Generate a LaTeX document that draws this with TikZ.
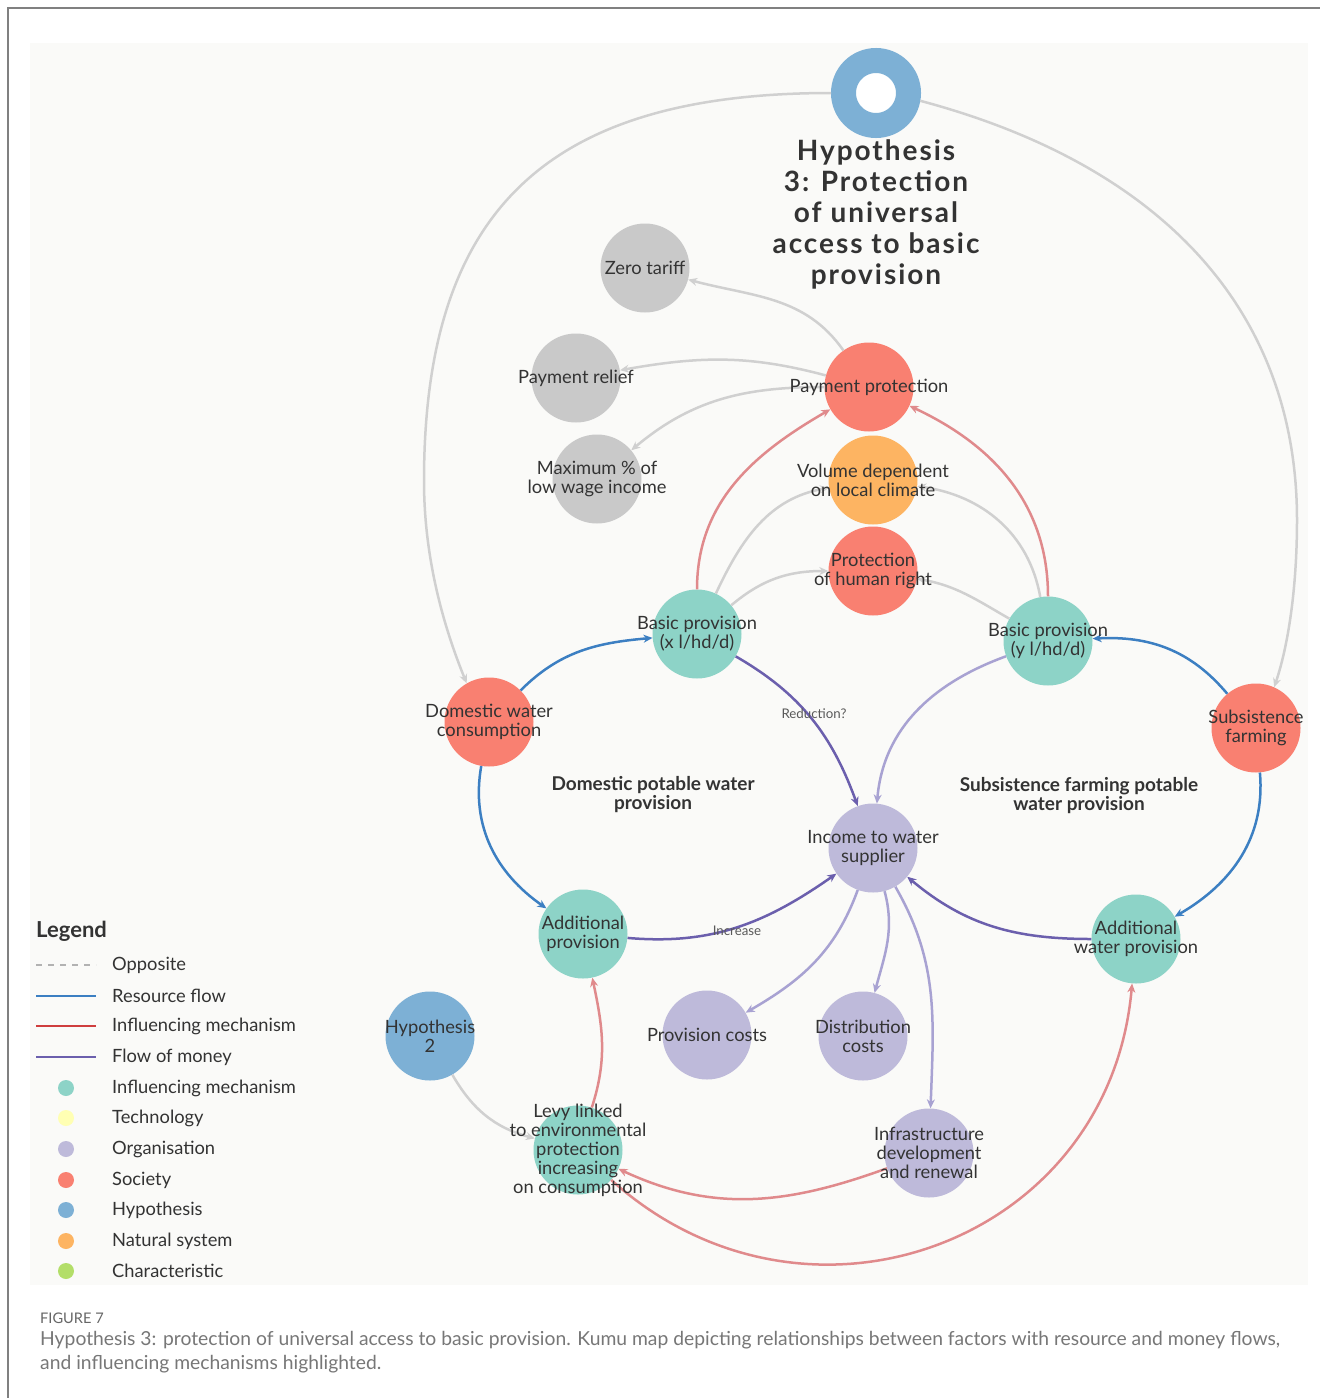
\documentclass[tikz,border=0pt]{standalone}
\usepackage{fontspec}
\setmainfont{Lato}
\newfontfamily\ttlfont{Lato}[LetterSpace=7]
\usetikzlibrary{arrows.meta}
\definecolor{cteal}{HTML}{8DD3C7}
\definecolor{cyel}{HTML}{FFFFB3}
\definecolor{clav}{HTML}{BEBADA}
\definecolor{cred}{HTML}{F98071}
\definecolor{chyp}{HTML}{7DB0D5}
\definecolor{corg}{HTML}{FDB462}
\definecolor{cgrn}{HTML}{B3DE69}
\definecolor{cgry}{HTML}{C9C9C9}
\definecolor{egry}{HTML}{D0D0D0}
\definecolor{ered}{HTML}{E08A8C}
\definecolor{eblu}{HTML}{3C7FC2}
\definecolor{edpu}{HTML}{6B5FAD}
\definecolor{elpu}{HTML}{A8A2D2}
\definecolor{lred}{HTML}{CF3E3E}
\definecolor{txt}{HTML}{333333}
\definecolor{panel}{HTML}{FAFAF8}
\definecolor{capc}{HTML}{777777}
\begin{document}
\begin{tikzpicture}[x=1pt,y=1pt,
  nd/.style={circle, minimum size=89pt, inner sep=0pt, draw=none},
  tl/.style={align=center, inner sep=0pt, text=txt, font=\fontsize{18.3}{19}\selectfont},
  rl/.style={align=center, inner sep=0pt, text=txt, font=\fontsize{19}{19}\selectfont\bfseries},
  elbl/.style={inner sep=0pt, text=black!65, font=\fontsize{13.3}{14}\selectfont},
  ed/.style={line width=2.5pt, -{Stealth[length=9pt,width=8pt]}},
  ge/.style={ed, draw=egry},
  re/.style={ed, draw=ered},
  be/.style={ed, draw=eblu},
  de/.style={ed, draw=edpu},
  le/.style={ed, draw=elpu},
  legt/.style={anchor=west, inner sep=0pt, text=txt, font=\fontsize{18.3}{19}\selectfont},
  legdot/.style={circle, minimum size=16pt, inner sep=0pt, draw=none},
  legln/.style={line width=2pt}
]
\useasboundingbox (0,0) rectangle (1320,-1398);
\fill[white] (0,0) rectangle (1320,-1398);
\fill[panel] (30,-43) rectangle (1308,-1285);
\draw[line width=1.5pt, black!50] (1320,-8) -- (8,-8) -- (8,-1398);

% nodes
\node[circle, minimum size=65pt, inner sep=0pt, line width=25pt, draw=chyp, fill=white] (h3) at (876,-93) {};
\node[nd, fill=cgry] (zt) at (645,-268) {};
\node[nd, fill=cgry] (pr) at (576,-378) {};
\node[nd, fill=cgry] (mx) at (597,-479) {};
\node[nd, fill=cred] (pp) at (869,-387) {};
\node[nd, fill=corg] (vd) at (873,-480) {};
\node[nd, fill=cred] (phr) at (873,-571) {};
\node[nd, fill=cteal] (bx) at (697,-634) {};
\node[nd, fill=cteal] (by) at (1048,-641) {};
\node[nd, fill=cred] (dwc) at (489,-722) {};
\node[nd, fill=cred] (sf) at (1256,-728) {};
\node[nd, fill=clav] (inc) at (873,-848) {};
\node[nd, fill=cteal] (ap) at (583,-934) {};
\node[nd, fill=cteal] (awp) at (1136,-939) {};
\node[nd, fill=chyp] (h2) at (430,-1036) {};
\node[nd, fill=clav] (pc) at (707,-1035) {};
\node[nd, fill=clav] (dc) at (863,-1036) {};
\node[nd, fill=cteal] (levy) at (578,-1150) {};
\node[nd, fill=clav] (inf) at (929,-1153) {};

% waypoints of the two long arcs
\coordinate (lw) at (424,-481);
\coordinate (rw) at (1297,-520);

% gray edges
\draw[ge] (h3.west) .. controls (548,-93) and (424,-209) .. (lw)
  .. controls (424,-561) and (445,-630) .. (dwc.120);
\draw[ge] (h3.-10) .. controls (1165,-166) and (1297,-313) .. (rw)
  .. controls (1297,-580) and (1290,-640) .. (sf.66);
\draw[ge] (pp) to[out=125, in=-15] (zt);
\draw[ge] (pp) to[out=165, in=10] (pr);
\draw[ge] (pp) to[out=180, in=40] (mx);
\draw[ge] (bx) to[out=65, in=190] (vd);
\draw[ge] (bx) to[out=40, in=180] (phr);
\draw[ge] (by) to[out=100, in=-8] (vd);
\draw[ge] (by) to[out=150, in=-10] (phr);
\draw[ge] (h2) to[out=-60, in=165] (levy);
% red edges
\draw[re] (bx) to[out=90, in=210] (pp);
\draw[re] (by) to[out=90, in=-25] (pp);
\draw[re] (levy) to[out=72, in=-78] (ap);
\draw[re] (inf) to[out=200, in=-25] (levy);
\draw[re] (levy) to[out=-42, in=-95, looseness=1.2] (awp);
% blue edges
\draw[be] (dwc) to[out=45, in=185] (bx);
\draw[be] (dwc) to[out=260, in=145] (ap);
\draw[be] (sf) to[out=130, in=3] (by);
\draw[be] (sf) to[out=-85, in=30] (awp);
% dark purple
\draw[de] (bx) to[out=-30, in=110] (inc);
\draw[de] (ap) to[out=-5, in=215] (inc);
\draw[de] (awp) to[out=180, in=-40] (inc);
% light purple
\draw[le] (by) to[out=200, in=85] (inc);
\draw[le] (inc) to[out=250, in=30] (pc);
\draw[le] (inc) to[out=-75, in=75] (dc);
\draw[le] (inc) to[out=-60, in=88] (inf);

% edge labels
\node[elbl] (lred) at (814,-714) {Reduction?};
\node[elbl] (linc) at (737,-931) {Increase};

% node texts
\node[align=center, inner sep=0pt, text=txt, font=\fontsize{28}{31}\ttlfont\bfseries] (h3t) at (876,-214) {Hypothesis\\3: Protection\\of universal\\access to basic\\provision};
\node[tl] (ztt) at (zt) {Zero tariff};
\node[tl] (prt) at (pr) {Payment relief};
\node[tl] (mxt) at (mx) {Maximum \% of\\low wage income};
\node[tl] (ppt) at (pp) {Payment protection};
\node[tl] (vdt) at (vd) {Volume dependent\\on local climate};
\node[tl] (phrt) at (phr) {Protection\\of human right};
\node[tl] (bxt) at (bx) {Basic provision\\(x l/hd/d)};
\node[tl] (byt) at (by) {Basic provision\\(y l/hd/d)};
\node[tl] (dwct) at (dwc) {Domestic water\\consumption};
\node[tl] (sft) at (sf) {Subsistence\\farming};
\node[tl] (inct) at (inc) {Income to water\\supplier};
\node[tl] (apt) at (ap) {Additional\\provision};
\node[tl] (awpt) at (awp) {Additional\\water provision};
\node[tl] (h2t) at (h2) {Hypothesis\\2};
\node[tl] (pct) at (pc) {Provision costs};
\node[tl] (dct) at (dc) {Distribution\\costs};
\node[tl] (levyt) at (levy) {Levy linked\\to environmental\\protection\\increasing\\on consumption};
\node[tl] (inft) at (inf) {Infrastructure\\development\\and renewal};

\node[rl] (rdom) at (653,-795) {Domestic potable water\\provision};
\node[rl] (rsub) at (1079,-796) {Subsistence farming potable\\water provision};

% legend
\node[anchor=west, inner sep=0pt, text=txt, font=\fontsize{22}{24}\selectfont\bfseries] (legh) at (36,-931) {Legend};
\coordinate (la1) at (36,-965); \coordinate (lb1) at (96,-965);
\coordinate (la2) at (36,-996); \coordinate (lb2) at (96,-996);
\coordinate (la3) at (36,-1026); \coordinate (lb3) at (96,-1026);
\coordinate (la4) at (36,-1057); \coordinate (lb4) at (96,-1057);
\draw[legln, black!30, dash pattern=on 6pt off 6pt] (la1) -- (lb1);
\draw[legln, eblu] (la2) -- (lb2);
\draw[legln, lred] (la3) -- (lb3);
\draw[legln, edpu] (la4) -- (lb4);
\node[legt] (lt1) at (112,-965) {Opposite};
\node[legt] (lt2) at (112,-996) {Resource flow};
\node[legt] (lt3) at (112,-1026) {Influencing mechanism};
\node[legt] (lt4) at (112,-1057) {Flow of money};
\node[legdot, fill=cteal] (ld1) at (66,-1088) {};
\node[legdot, fill=cyel] (ld2) at (66,-1118) {};
\node[legdot, fill=clav] (ld3) at (66,-1149) {};
\node[legdot, fill=cred] (ld4) at (66,-1180) {};
\node[legdot, fill=chyp] (ld5) at (66,-1210) {};
\node[legdot, fill=corg] (ld6) at (66,-1241) {};
\node[legdot, fill=cgrn] (ld7) at (66,-1271) {};
\node[legt] (lt5) at (112,-1088) {Influencing mechanism};
\node[legt] (lt6) at (112,-1118) {Technology};
\node[legt] (lt7) at (112,-1149) {Organisation};
\node[legt] (lt8) at (112,-1180) {Society};
\node[legt] (lt9) at (112,-1210) {Hypothesis};
\node[legt] (lt10) at (112,-1241) {Natural system};
\node[legt] (lt11) at (112,-1271) {Characteristic};

% caption
\node[anchor=west, inner sep=0pt, text=black!60, font=\fontsize{14.6}{16}\selectfont] (figl) at (40,-1318) {FIGURE 7};
\node[anchor=west, inner sep=0pt, text=capc, font=\fontsize{19.3}{21}\selectfont] (cap1) at (40,-1340) {Hypothesis 3: protection of universal access to basic provision. Kumu map depicting relationships between factors with resource and money flows,};
\node[anchor=west, inner sep=0pt, text=capc, font=\fontsize{19.3}{21}\selectfont] (cap2) at (40,-1364) {and influencing mechanisms highlighted.};
\end{tikzpicture}
\end{document}
